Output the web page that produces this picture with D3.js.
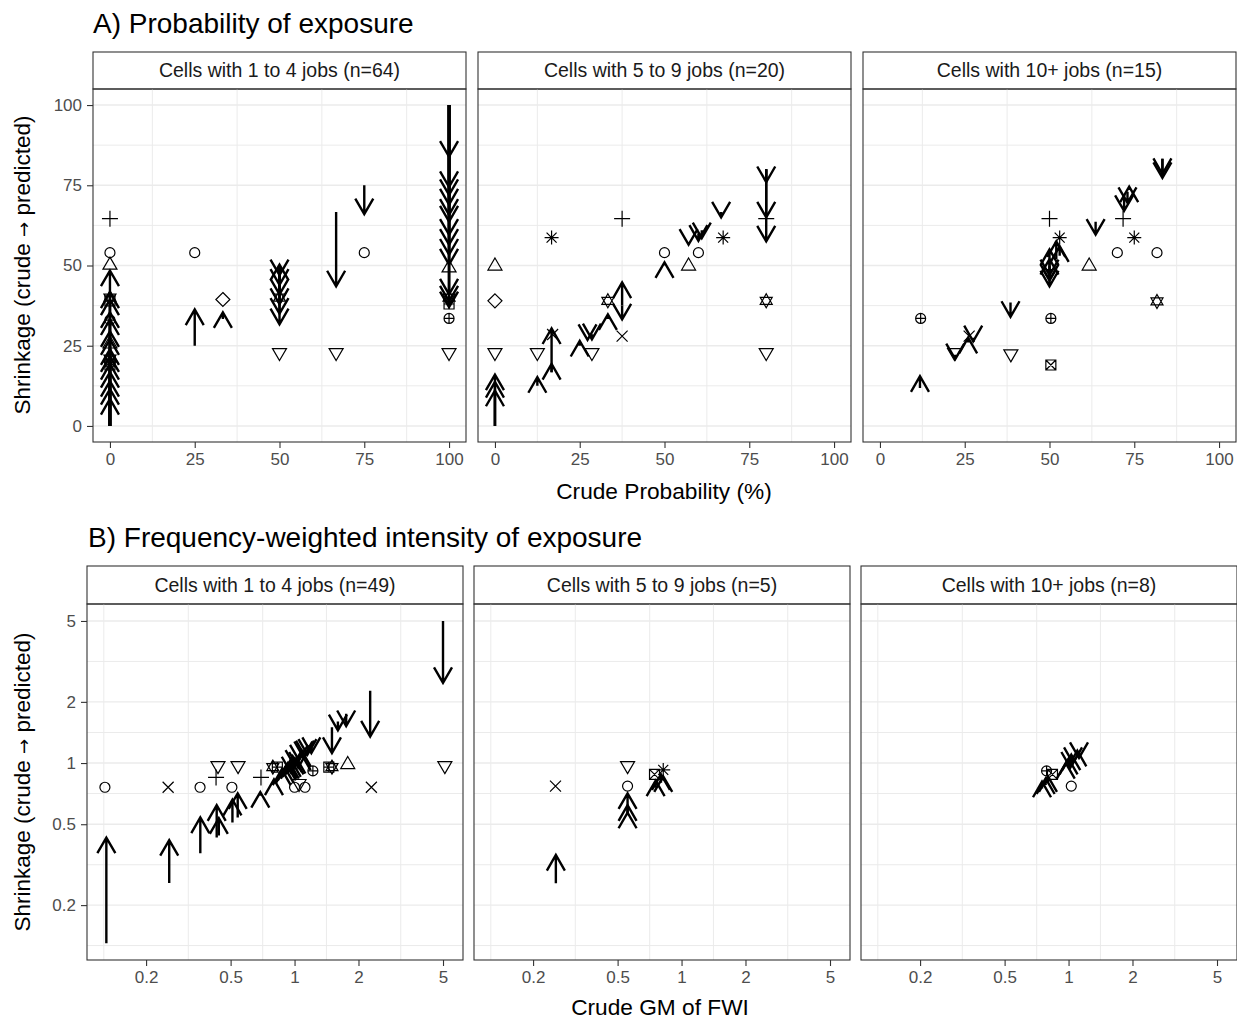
<!DOCTYPE html>
<html>
<head>
<meta charset="utf-8">
<script src="https://cdn.jsdelivr.net/npm/d3@7"></script>
<style>
body { margin: 0; background: #fff; }
text { font-family: "Liberation Sans", Arial, sans-serif; }
</style>
</head>
<body>
<script>
/*
/	DATA  (arrows: [crude, predicted], drawn at x = crude ; points: [x, y, shape])
*/
var stripA = ["Cells with 1 to 4 jobs (n=64)", "Cells with 5 to 9 jobs (n=20)", "Cells with 10+ jobs (n=15)"];
var stripB = ["Cells with 1 to 4 jobs (n=49)", "Cells with 5 to 9 jobs (n=5)", "Cells with 10+ jobs (n=8)"];
var ticksA = [0, 25, 50, 75, 100];
var minorA = [12.5, 37.5, 62.5, 87.5];
var ticksB = [0.2, 0.5, 1, 2, 5];
var minorB = [0.1265, 0.316, 0.708, 1.413, 3.162];

var arrowsA1 = [[0,48.4],[0,41.6],[0,39.4],[0,35.4],[0,33.2],[0,29.5],[0,27],[0,23.9],[0,21.7],[0,19.3],[0,16.8],[0,14],[0,11.5],[0,8.4],
	[25,36.3],[33.3,35.4],
	[50,50.3],[50,47],[50,44],[50,41],[50,38],[50,35],[50,31.7],
	[66.7,43.5],[75,66],
	[100,83.9],[100,74.5],[100,72],[100,69],[100,65.8],[100,63.7],[100,59.6],[100,56.5],[100,53.4],[100,50.3],[100,41],[100,38.8],[100,37]];
var pointsA1 = [[0,64.6,3],[0,54,1],[0,50.6,2],[0,40,11],[0,39,12],[0,33,10],[0,26,2],[0,21,11],[0,20,7],[0,19,12],
	[25,54,1],[33.3,39.4,5],[50,40,11],[50,22.4,6],[66.7,22.4,6],[75,54,1],
	[100,49.7,2],[100,40,11],[100,38,12],[100,33.5,10],[100,22.4,6]];

var arrowsA2 = [[0,16],[0,13.7],[0,11],[12.5,15.2],[16.7,30.4],[16.7,19.3],[25,26.5],[27.3,26.8],[28.6,27],
	[33.3,34.8],[37.5,44.7],[37.5,33.2],[50,51],[57.1,56.5],[60,57.7],[61,58.5],[66.7,65],[80,76],[80,65],[80,57.5]];
var pointsA2 = [[0,50.3,2],[0,39,5],[0,22.4,6],[12.5,22.4,6],[16.7,58.7,8],[17,28.5,4],[28.6,22.4,6],[37.5,64.6,3],
	[33.3,39,11],[37.5,28,4],[50,54,1],[57.1,50.3,2],[60,54,1],[67.3,58.7,8],[80,64.6,3],[80,39,11],[80,22.4,6]];

var arrowsA3 = [[11.8,15.5],[22.2,20.8],[26,27.5],[27.5,26.4],[38.5,34],[50,55],[50,52],[50,47],[50,45.5],[50,43.5],
	[52,57.5],[53,56],[63.6,59.6],[72,67],[73,69.5],[73.5,74.6],[83.3,77.3],[83.3,78.5]];
var pointsA3 = [[12,33.5,10],[50.4,33.5,10],[50.4,19,7],[38.6,22,6],[22,22.4,6],[26.3,28,4],[50,47,6],[50,64.6,3],[53,58.7,8],
	[61.7,50.3,2],[71.7,64.6,3],[75,58.7,8],[70,54,1],[81.7,54,1],[81.7,38.8,11]];

var arrowsB1 = [[0.13,0.43],[0.257,0.418],[0.36,0.54],[0.43,0.62],[0.44,0.535],[0.51,0.66],[0.54,0.71],[0.69,0.72],[0.8,0.83],
	[0.87,0.93],[0.9,0.95],[0.92,0.98],[0.95,1.0],[0.97,1.02],[1.0,1.05],[1.02,1.06],[1.05,1.03],[1.08,1.1],[1.1,1.07],
	[1.12,1.08],[1.15,1.1],[1.2,1.12],[0.93,1.0],[1.0,0.97],[0.96,0.9],[1.04,0.95],[1.08,1.15],[0.98,1.08],
	[1.5,1.12],[1.6,1.45],[1.75,1.52],[2.27,1.35],[5.0,2.48]];
var pointsB1 = [[0.128,0.76,1],[0.254,0.76,4],[0.359,0.76,1],[0.436,0.955,6],[0.427,0.85,3],[0.542,0.955,6],[0.507,0.76,1],
	[0.695,0.85,3],[0.79,0.955,11],[0.83,0.955,12],[1.0,0.76,1],[1.05,0.78,6],[1.12,0.76,1],[1.22,0.915,10],
	[1.45,0.955,12],[1.5,0.955,11],[1.78,1.0,2],[2.3,0.76,4],[5.1,0.955,6]];

var arrowsB2 = [[0.256,0.353],[0.557,0.71],[0.557,0.62],[0.557,0.57],[0.755,0.82],[0.8,0.88],[0.82,0.86]];
var pointsB2 = [[0.255,0.77,4],[0.557,0.955,6],[0.557,0.77,1],[0.746,0.88,7],[0.82,0.925,8]];

var arrowsB3 = [[0.75,0.81],[0.78,0.84],[0.8,0.86],[0.97,1.0],[1.0,1.05],[1.03,1.1],[1.05,1.0],[1.1,1.15],[1.12,1.06],[1.02,0.95]];
var pointsB3 = [[0.788,0.915,10],[1.03,0.77,1],[0.84,0.88,7]];

/*
/	POINT SHAPES (ggplot codes)
*/
var circ = "M5,0A5,5 0 1,1 -5,0A5,5 0 1,1 5,0Z";
var shapes = {
	1: circ,
	2: "M0,-6.5L7,5.5L-7,5.5Z",
	3: "M-8,0H8M0,-8V8",
	4: "M-5.5,-5.5L5.5,5.5M-5.5,5.5L5.5,-5.5",
	5: "M0,-7L7,0L0,7L-7,0Z",
	6: "M0,6.5L7,-5.5L-7,-5.5Z",
	7: "M-5,-5H5V5H-5ZM-5,-5L5,5M-5,5L5,-5",
	8: "M-7,0H7M0,-7V7M-5,-5L5,5M-5,5L5,-5",
	10: circ + "M-5,0H5M0,-5V5",
	11: "M0,-7L6,3.5L-6,3.5ZM0,7L6,-3.5L-6,-3.5Z",
	12: "M-5,-5H5V5H-5ZM-5,0H5M0,-5V5"
};

var svgSelect = d3.select("body").append("svg")
	.attr("width", 1237)
	.attr("height", 1020);

var clipId = 0;

function drawPanel(cfg) {
	var g = svgSelect.append('g');
	var x = cfg.x, y = cfg.y;
	var x0 = x.range()[0], x1 = x.range()[1];
	var yb = y.range()[0], yt = y.range()[1];

	// strip
	g.append('rect')
		.attr('x', x0).attr('y', cfg.stripY)
		.attr('width', x1 - x0).attr('height', yt - cfg.stripY)
		.style('fill', '#fff').attr('stroke', '#333').attr('stroke-width', 1.1);
	g.append('text')
		.attr('x', (x0 + x1) / 2).attr('y', (cfg.stripY + yt) / 2)
		.attr('dy', '0.35em').attr('text-anchor', 'middle')
		.attr('font-size', '19.5px').style('fill', '#1A1A1A')
		.text(cfg.label);

	// grid
	g.selectAll('.vminor').data(cfg.minor).enter().append('line')
		.attr('x1', d => x(d)).attr('x2', d => x(d)).attr('y1', yt).attr('y2', yb)
		.attr('stroke', '#EBEBEB').attr('stroke-width', 1);
	g.selectAll('.hminor').data(cfg.minor).enter().append('line')
		.attr('y1', d => y(d)).attr('y2', d => y(d)).attr('x1', x0).attr('x2', x1)
		.attr('stroke', '#EBEBEB').attr('stroke-width', 1);
	g.selectAll('.hmajor').data(cfg.ticks).enter().append('line')
		.attr('y1', d => y(d)).attr('y2', d => y(d)).attr('x1', x0).attr('x2', x1)
		.attr('stroke', '#EBEBEB').attr('stroke-width', 1.4);

	// marks
	var id = 'clip' + (clipId++);
	svgSelect.append('clipPath').attr('id', id).append('rect')
		.attr('x', x0).attr('y', yt).attr('width', x1 - x0).attr('height', yb - yt);
	var m = g.append('g').attr('clip-path', 'url(#' + id + ')');

	var L = 18, hw = L * 0.5, hh = L * 0.866;
	m.selectAll('path.arrow').data(cfg.arrows).enter().append('path')
		.attr('d', function(d) {
			var px = x(d[0]), ya = y(d[0]), yz = y(d[1]);
			var dir = yz >= ya ? 1 : -1;
			return 'M' + px + ',' + ya + 'L' + px + ',' + yz +
				'M' + (px - hw) + ',' + (yz - dir * hh) + 'L' + px + ',' + yz + 'L' + (px + hw) + ',' + (yz - dir * hh);
		})
		.attr('fill', 'none').attr('stroke', '#000').attr('stroke-width', 2.4);

	m.selectAll('path.pt').data(cfg.points).enter().append('path')
		.attr('transform', d => 'translate(' + x(d[0]) + ',' + y(d[1]) + ')')
		.attr('d', d => shapes[d[2]])
		.attr('fill', 'none').attr('stroke', '#000').attr('stroke-width', 1.2);

	// border
	g.append('rect')
		.attr('x', x0).attr('y', yt).attr('width', x1 - x0).attr('height', yb - yt)
		.style('fill', 'none').attr('stroke', '#333').attr('stroke-width', 1.1);

	// axes
	var ax = g.append('g').attr('transform', 'translate(0,' + yb + ')')
		.call(d3.axisBottom(x).tickValues(cfg.ticks).tickSize(6).tickPadding(5).tickFormat(d3.format('~g')));
	styleAxis(ax);
	if (cfg.showY) {
		var ay = g.append('g').attr('transform', 'translate(' + x0 + ',0)')
			.call(d3.axisLeft(y).tickValues(cfg.ticks).tickSize(6).tickPadding(5).tickFormat(d3.format('~g')));
		styleAxis(ay);
	}
}

function styleAxis(a) {
	a.select('.domain').remove();
	a.selectAll('line').attr('stroke', '#333').attr('stroke-width', 1.1);
	a.selectAll('text').attr('font-size', '17px').style('fill', '#4D4D4D')
		.attr('font-family', '"Liberation Sans", Arial, sans-serif');
}

/*
/	ROW A : PROBABILITY
*/
var leftsA = [93, 478, 863];
var arrowsA = [arrowsA1, arrowsA2, arrowsA3];
var pointsA = [pointsA1, pointsA2, pointsA3];
leftsA.forEach(function(l, i) {
	drawPanel({
		x: d3.scaleLinear().domain([-5, 105]).range([l, l + 373]),
		y: d3.scaleLinear().domain([-5, 105]).range([442, 89]),
		stripY: 52, label: stripA[i], ticks: ticksA, minor: minorA,
		arrows: arrowsA[i], points: pointsA[i], showY: i == 0
	});
});

/*
/	ROW B : INTENSITY (log scales)
*/
var leftsB = [87, 474, 861];
var arrowsB = [arrowsB1, arrowsB2, arrowsB3];
var pointsB = [pointsB1, pointsB2, pointsB3];
leftsB.forEach(function(l, i) {
	drawPanel({
		x: d3.scaleLog().domain([0.1054, 6.21]).range([l, l + 376]),
		y: d3.scaleLog().domain([0.1074, 6.06]).range([960, 604]),
		stripY: 566, label: stripB[i], ticks: ticksB, minor: minorB,
		arrows: arrowsB[i], points: pointsB[i], showY: i == 0
	});
});

/*
/	TITLES
*/
svgSelect.append('text').attr('x', 93).attr('y', 33)
	.attr('font-size', '28px').style('fill', '#000').text('A) Probability of exposure');
svgSelect.append('text').attr('x', 88).attr('y', 547)
	.attr('font-size', '28px').style('fill', '#000').text('B) Frequency-weighted intensity of exposure');

svgSelect.append('text').attr('x', 664).attr('y', 499).attr('text-anchor', 'middle')
	.attr('font-size', '22.7px').style('fill', '#000').text('Crude Probability (%)');
svgSelect.append('text').attr('x', 660).attr('y', 1015).attr('text-anchor', 'middle')
	.attr('font-size', '22.7px').style('fill', '#000').text('Crude GM of FWI');

[265, 782].forEach(function(cy) {
	var t = svgSelect.append('text')
		.attr('transform', 'translate(30,' + cy + ') rotate(-90)')
		.attr('text-anchor', 'middle')
		.attr('font-size', '22.5px').style('fill', '#000');
	t.append('tspan').text('Shrinkage (crude ');
	t.append('tspan').attr('font-family', '"DejaVu Sans", sans-serif').attr('font-size', '18px').text('\u2192');
	t.append('tspan').text(' predicted)');
});
</script>
</body>
</html>
